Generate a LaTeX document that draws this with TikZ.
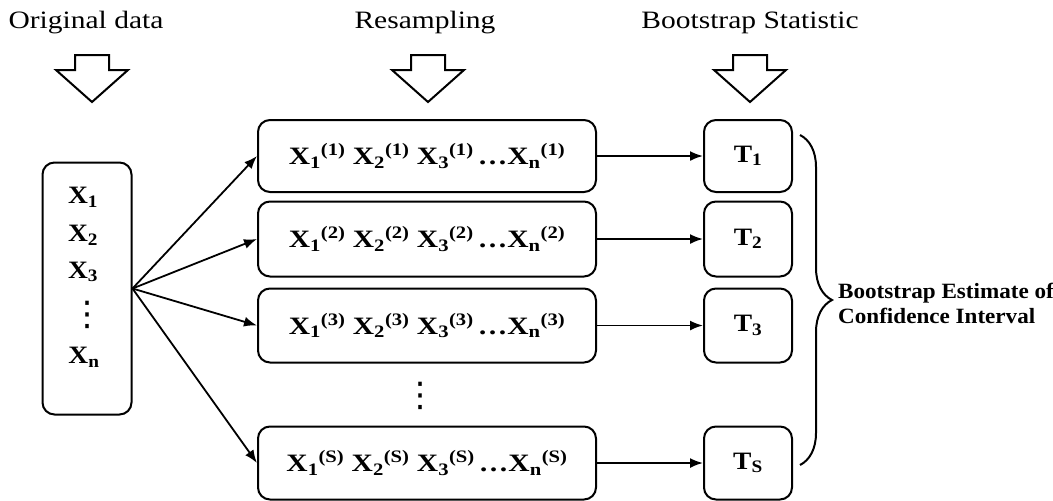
\documentclass[tikz,border=0pt]{standalone}
\usepackage{fontspec}
\setmainfont{Liberation Serif}
\newfontfamily\hdfont[FakeStretch=1.18]{Liberation Serif}
\newfontfamily\bxfont[FakeStretch=1.18]{Liberation Serif}
\newfontfamily\tfont[FakeStretch=1.1]{Liberation Serif}
\newfontfamily\lbfont[FakeStretch=1.06]{Liberation Serif}
\newfontfamily\dotfont{DejaVu Sans}
\usetikzlibrary{arrows.meta,decorations.pathreplacing}
\newcommand{\xsamp}[2]{X\textsubscript{#1}\textsuperscript{(#2)}}
\newcommand{\xrow}[1]{\raisebox{4pt}{\xsamp{1}{#1} \xsamp{2}{#1} \xsamp{3}{#1}\,\ldots\xsamp{n}{#1}}}
\begin{document}
\begin{tikzpicture}[x=1pt,y=-1pt,
  rbox/.style={draw,line width=2pt,rounded corners=12pt,inner sep=0pt},
  samp/.style={rbox,minimum width=338pt,font=\bxfont\bfseries\fontsize{25}{28}\selectfont},
  stat/.style={rbox,minimum width=88pt,font=\tfont\bfseries\fontsize{25}{28}\selectfont},
  head/.style={anchor=base,font=\hdfont\fontsize{25}{30}\selectfont},
  hollow/.style={draw,line width=2pt,line join=miter},
  conn/.style={line width=1.8pt,-{Latex[length=13pt,width=10pt]}},
  vdot/.style={inner sep=0pt,font=\dotfont\fontsize{34}{34}\selectfont},
  lx/.style={font=\tfont\bfseries\fontsize{25}{28}\selectfont,inner sep=0pt}]
\useasboundingbox (0,0) rectangle (1053,501);
% headers
\node[head] (h1) at (86,28) {Original data};
\node[head] (h2) at (425,28) {Resampling};
\node[head] (h3) at (750,28) {Bootstrap Statistic};
% hollow arrows
\foreach \cx in {92,428,750}{
  \draw[hollow] (\cx-17,55) -- (\cx+17,55) -- (\cx+17,70) -- (\cx+36,70) -- (\cx,102) -- (\cx-36,70) -- (\cx-17,70) -- cycle;
}
% original data box
\node[rbox,minimum width=89pt,minimum height=252pt] (L) at (87,288.5) {};
\node[lx] (x1) at (83,197) {X\textsubscript{1}};
\node[lx] (x2) at (83,235) {X\textsubscript{2}};
\node[lx] (x3) at (83,272) {X\textsubscript{3}};
\node[vdot] (xd) at (87,315) {⋮};
\node[lx] (xn) at (84,357) {X\textsubscript{n}};
% resampling boxes
\node[samp,minimum height=72pt] (R1) at (427,156) {\xrow{1}};
\node[samp,minimum height=75pt] (R2) at (427,239) {\xrow{2}};
\node[samp,minimum height=74pt] (R3) at (427,325.5) {\xrow{3}};
\node[vdot] (rd) at (420,396) {⋮};
\node[samp,minimum height=73pt] (RS) at (427,463) {\xrow{S}};
% statistic boxes
\node[stat,minimum height=72pt] (T1) at (748,156) {\raisebox{4pt}{T\textsubscript{1}}};
\node[stat,minimum height=75pt] (T2) at (748,239) {\raisebox{4pt}{T\textsubscript{2}}};
\node[stat,minimum height=74pt] (T3) at (748,325.5) {\raisebox{4pt}{T\textsubscript{3}}};
\node[stat,minimum height=73pt] (TS) at (748,463) {\raisebox{4pt}{T\textsubscript{S}}};
% connectors
\foreach \r in {R1,R2,R3,RS}{ \draw[conn] (L.east) -- (\r.west); }
\draw[conn] (R1.east) -- (T1.west);
\draw[conn] (R2.east) -- (T2.west);
\draw[conn] (R3.east) -- (T3.west);
\draw[conn] (RS.east) -- (TS.west);
% brace
\coordinate (bt) at (800,135);
\coordinate (bb) at (800,465);
\draw[line width=2pt,decorate,decoration={brace,amplitude=32pt}] (bt) -- (bb);
\node[anchor=west,align=left,inner sep=0pt,font=\lbfont\bfseries\fontsize{21.8}{25}\selectfont] (lab) at (838,303) {Bootstrap Estimate of\\Confidence Interval};
\end{tikzpicture}
\end{document}
